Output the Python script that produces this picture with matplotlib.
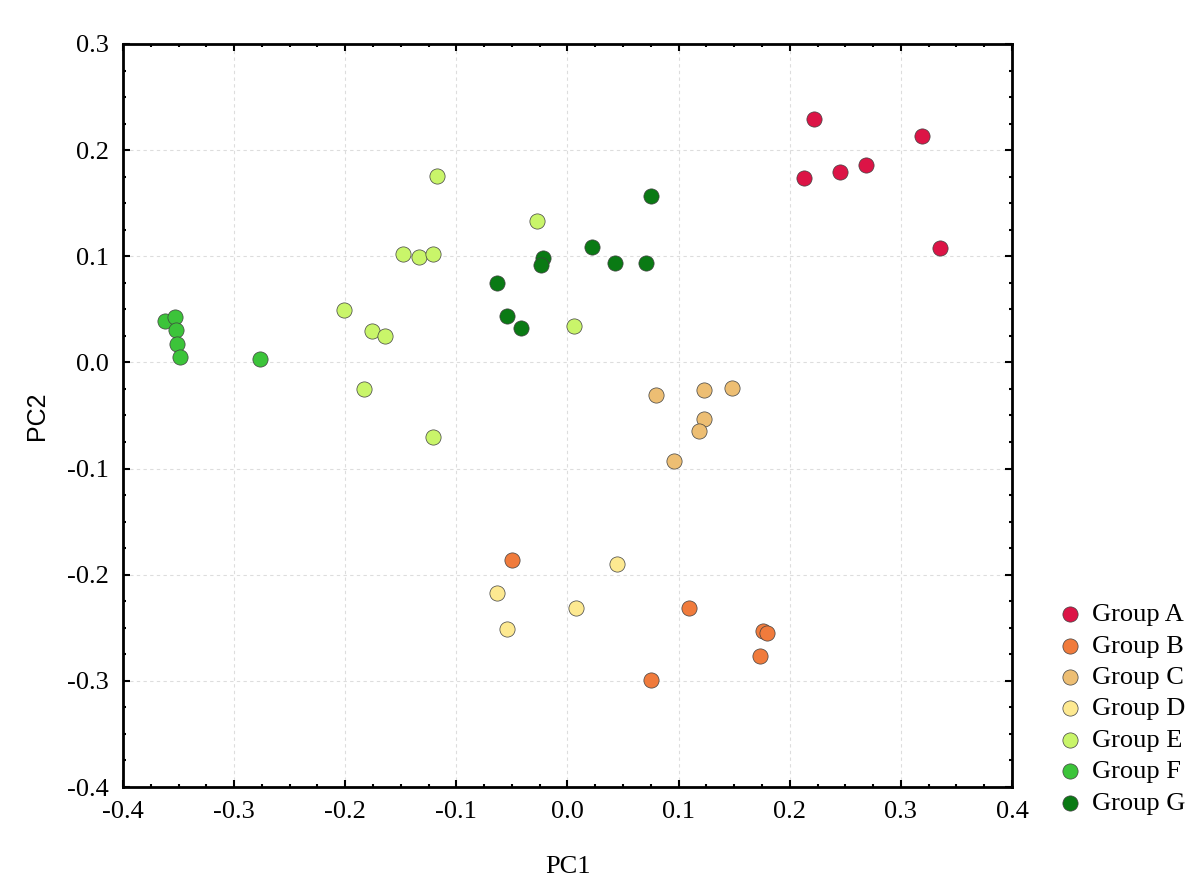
'''
  PCA score plot, PC1 vs PC2, seven groups.
'''

import numpy as np
import matplotlib
matplotlib.use('Agg')
import matplotlib.pyplot as plt
from matplotlib.ticker import MultipleLocator

# Group names and colors.
groups = ['Group A', 'Group B', 'Group C', 'Group D', 'Group E', 'Group F',
          'Group G']
colors = ['#DC1446', '#F07B3C', '#EDBE73', '#FDE991', '#C9F56A', '#3CC43A',
          '#0A7A14']

# Scores (PC1, PC2).
pc1_a = [0.222, 0.319, 0.269, 0.245, 0.213, 0.335]
pc2_a = [0.229, 0.213, 0.186, 0.179, 0.174, 0.108]

pc1_b = [-0.050, 0.109, 0.176, 0.180, 0.173, 0.075]
pc2_b = [-0.186, -0.231, -0.253, -0.255, -0.277, -0.299]

pc1_c = [0.148, 0.123, 0.080, 0.123, 0.118, 0.096]
pc2_c = [-0.024, -0.026, -0.031, -0.053, -0.065, -0.093]

pc1_d = [0.045, -0.063, 0.008, -0.054]
pc2_d = [-0.190, -0.217, -0.231, -0.251]

pc1_e = [-0.117, -0.027, -0.148, -0.134, -0.121, -0.201, -0.176, -0.164,
         0.006, -0.183, -0.121]
pc2_e = [0.176, 0.133, 0.102, 0.099, 0.102, 0.049, 0.030, 0.025, 0.034,
         -0.025, -0.070]

pc1_f = [-0.362, -0.353, -0.352, -0.351, -0.349, -0.277]
pc2_f = [0.039, 0.043, 0.031, 0.017, 0.005, 0.003]

pc1_g = [0.075, 0.022, 0.043, 0.071, -0.022, -0.024, -0.063, -0.054, -0.042]
pc2_g = [0.157, 0.109, 0.094, 0.094, 0.098, 0.092, 0.075, 0.044, 0.032]

pc1 = [pc1_a, pc1_b, pc1_c, pc1_d, pc1_e, pc1_f, pc1_g]
pc2 = [pc2_a, pc2_b, pc2_c, pc2_d, pc2_e, pc2_f, pc2_g]

serif = ['Liberation Serif', 'DejaVu Serif']

fig = plt.figure(figsize=(12, 8.92), dpi=100, facecolor='white')
ax = fig.add_axes([0.1025, 0.1177, 0.7408, 0.833])

for i, name in enumerate(groups):
  ax.scatter(pc1[i], pc2[i], s=120, color=colors[i], edgecolors='#404040',
             linewidths=0.5, label=name, zorder=3)

# Axis limits and ticks.
ax.set_xlim(-0.4, 0.4)
ax.set_ylim(-0.4, 0.3)
ax.xaxis.set_minor_locator(MultipleLocator(0.025))
ax.yaxis.set_minor_locator(MultipleLocator(0.025))
xt = np.arange(-0.4, 0.41, 0.1)
yt = np.arange(-0.4, 0.31, 0.1)
ax.set_xticks(xt)
ax.set_yticks(yt)
ax.set_xticklabels(['%.1f' % v if abs(v) > 1e-9 else '0.0' for v in xt],
                   family=serif, fontsize=19)
ax.set_yticklabels(['%.1f' % v if abs(v) > 1e-9 else '0.0' for v in yt],
                   family=serif, fontsize=19)
ax.tick_params(which='major', direction='in', length=5, width=1.5,
               top=True, right=True, pad=10)
ax.tick_params(which='minor', direction='in', length=2, width=1.5,
               top=True, right=True)

for s in ax.spines.values():
  s.set_linewidth(2)

ax.grid(True, which='major', color='#DDDDDD', linestyle=(0, (3, 3)),
        linewidth=0.8, zorder=0)

ax.set_xlabel('PC1', family=serif, fontsize=19, labelpad=24)
ax.set_ylabel('PC2', family=['Liberation Sans', 'DejaVu Sans'], fontsize=18,
              labelpad=13)

# Legend outside at the bottom right.
lgd = fig.legend(loc='lower left', bbox_to_anchor=(0.8667, 0.075),
                 frameon=False, prop={'family': serif, 'size': 19},
                 handletextpad=0.1, handlelength=1.47, labelspacing=0.30,
                 markerscale=1.0, borderaxespad=0)

fig.savefig('out.png', dpi=100, facecolor=fig.get_facecolor())
